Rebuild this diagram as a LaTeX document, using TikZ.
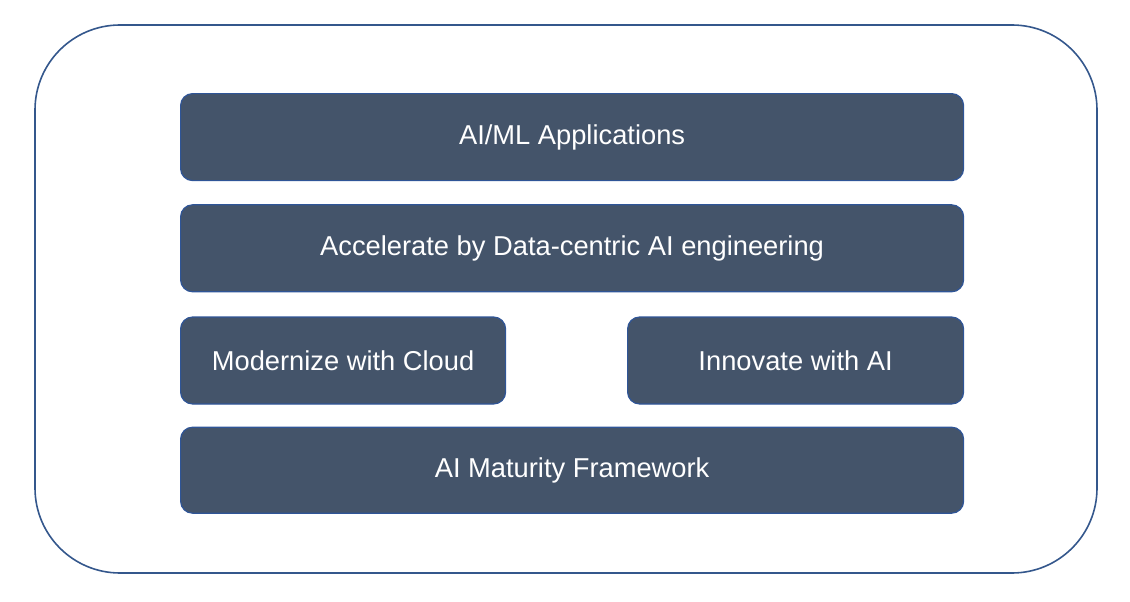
\documentclass[tikz,border=0pt]{standalone}
\usepackage{fontspec}
\setmainfont{Liberation Sans}
\usetikzlibrary{positioning}
\definecolor{layerfill}{HTML}{44546A}
\definecolor{layeredge}{HTML}{2F5597}
\definecolor{frameedge}{HTML}{34578C}
\begin{document}
\begin{tikzpicture}[
    x=1pt, y=-1pt,
    node distance=23pt and 122pt,
    layer/.style={rectangle, draw=layeredge, fill=layerfill, rounded corners=12pt, minimum height=87pt, inner sep=0pt, text=white, line width=1.2pt, font=\fontsize{27.3}{32}\selectfont},
    wide/.style={layer, minimum width=783pt},
    frame/.style={draw=frameedge, line width=1.6pt, rounded corners=85pt}
]
\useasboundingbox (0,0) rectangle (1130,602);

% Outer frame
\draw[frame] (35,25) rectangle (1097,573);

% Layers
\node[wide, anchor=north west] (apps) at (180,93) {AI/ML Applications};
\node[wide, below=of apps] (accel) {Accelerate by Data-centric AI engineering};
\node[layer, minimum width=325pt, below=24pt of accel.south west, anchor=north west] (cloud) {Modernize with Cloud};
\node[layer, minimum width=336pt, below=24pt of accel.south east, anchor=north east] (innov) {Innovate with AI};
\node[wide, minimum height=86pt, below=22pt of cloud.south west, anchor=north west] (maturity) {AI Maturity Framework};

\end{tikzpicture}
\end{document}
